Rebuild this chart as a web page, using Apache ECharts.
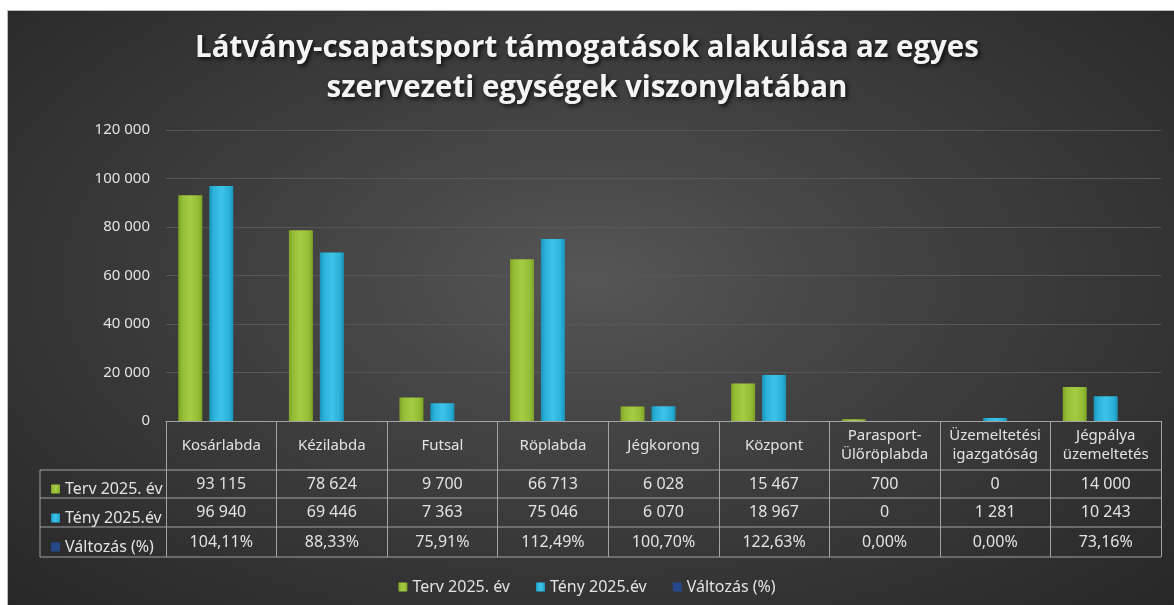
<!DOCTYPE html>
<html lang="hu">
<head>
    <meta charset="UTF-8">
    <title>Látvány-csapatsport támogatások</title>
    <script src="https://cdn.jsdelivr.net/npm/echarts@6/dist/echarts.min.js"></script>
    <style>
        body { margin: 0; background: #fff; }
        #panel {
            position: absolute; left: 7px; top: 10px; width: 1167px; height: 595px;
            background: radial-gradient(ellipse at 50% 45%, #565656 0%, #3e3e3e 45%, #272727 100%);
            border-left: 1px solid #bbb; border-top: 1px solid #bbb;
        }
        #main { position: absolute; left: 0; top: 0; width: 1174px; height: 605px; }
    </style>
</head>
<body>
<div id="panel"></div>
<div id="main"></div>
<script type="text/javascript">
    // adatok
    var categories = ['Kosárlabda', 'Kézilabda', 'Futsal', 'Röplabda', 'Jégkorong', 'Központ',
        'Parasport-\nÜlőröplabda', 'Üzemeltetési\nigazgatóság', 'Jégpálya\nüzemeltetés'];
    var terv = [93115, 78624, 9700, 66713, 6028, 15467, 700, 0, 14000];
    var teny = [96940, 69446, 7363, 75046, 6070, 18967, 0, 1281, 10243];
    // változás arányként (1 = 100%)
    var valtozas = [1.0411, 0.8833, 0.7591, 1.1249, 1.0070, 1.2263, 0, 0, 0.7316];
    var seriesNames = ['Terv 2025. év', 'Tény 2025.év', 'Változás (%)'];

    var FONT = 'Noto Sans';
    var TXT = '#e2e2e2';
    var LINE = '#a3a3a3';

    // rács és táblázat elrendezés
    var W = 1174, H = 605;
    var gridLeft = 166, gridRight = 13, gridTop = 130, gridBottom = 184;
    var zeroY = H - gridBottom;
    var tableLeft = 40;
    var rowLines = [470, 498, 527, 557];

    function fmtNum(v) {
        return String(v).replace(/\B(?=(\d{3})+(?!\d))/g, '\u00a0');
    }
    function fmtPct(v) {
        return (v * 100).toFixed(2).replace('.', ',') + '%';
    }

    function barGrad(dark, mid, light) {
        return new echarts.graphic.LinearGradient(0, 0, 1, 0, [
            {offset: 0, color: dark},
            {offset: 0.18, color: mid},
            {offset: 0.5, color: light},
            {offset: 0.82, color: mid},
            {offset: 1, color: dark}
        ]);
    }

    function rowAxis(data, margin) {
        return {
            type: 'category',
            gridIndex: 0,
            position: 'bottom',
            data: data,
            axisLine: {show: false},
            axisTick: {show: false},
            splitLine: {show: false},
            axisLabel: {
                interval: 0, margin: margin, verticalAlign: 'middle',
                color: TXT, fontSize: 16, fontFamily: FONT
            }
        };
    }

    var graphics = [];
    rowLines.forEach(function (y) {
        graphics.push({
            type: 'line', silent: true,
            shape: {x1: tableLeft, y1: y, x2: W - gridRight, y2: y},
            style: {stroke: LINE, lineWidth: 1}
        });
    });
    graphics.push({
        type: 'line', silent: true,
        shape: {x1: tableLeft, y1: rowLines[0], x2: tableLeft, y2: rowLines[rowLines.length - 1]},
        style: {stroke: LINE, lineWidth: 1}
    });

    var legendText = {color: TXT, fontSize: 16, fontFamily: FONT, lineHeight: 18};

    var option = {
        title: {
            text: 'Látvány-csapatsport támogatások alakulása az egyes\nszervezeti egységek viszonylatában',
            left: 'center',
            top: 24,
            textStyle: {
                color: '#f4f4f4', fontSize: 29.5, fontWeight: 'bold', fontFamily: 'Open Sans',
                lineHeight: 40,
                textShadowColor: 'rgba(0,0,0,0.8)', textShadowBlur: 4,
                textShadowOffsetX: 2, textShadowOffsetY: 2
            }
        },
        legend: [{
            data: seriesNames,
            top: 573,
            left: 'center',
            itemWidth: 9, itemHeight: 9, itemGap: 26,
            icon: 'rect',
            textStyle: legendText
        }, {
            data: seriesNames,
            orient: 'vertical',
            left: 46,
            top: 475,
            itemWidth: 9, itemHeight: 9, itemGap: 11,
            icon: 'rect',
            textStyle: legendText
        }],
        grid: {left: gridLeft, right: gridRight, top: gridTop, bottom: gridBottom, containLabel: false},
        xAxis: [{
            type: 'category',
            data: categories,
            axisLine: {lineStyle: {color: LINE, width: 1}},
            axisTick: {show: true, interval: 0, length: rowLines[rowLines.length - 1] - zeroY,
                lineStyle: {color: LINE, width: 1}},
            axisLabel: {
                interval: 0, margin: (rowLines[0] - zeroY) / 2, verticalAlign: 'middle',
                color: TXT, fontSize: 15, fontFamily: FONT, lineHeight: 19
            }
        },
            rowAxis(terv.map(fmtNum), 63),
            rowAxis(teny.map(fmtNum), 91.5),
            rowAxis(valtozas.map(fmtPct), 121)
        ],
        yAxis: {
            type: 'value',
            min: 0, max: 120000, interval: 20000,
            axisLine: {show: false},
            axisTick: {show: false},
            splitLine: {lineStyle: {color: '#575757', width: 1}},
            axisLabel: {
                color: TXT, fontSize: 15, fontFamily: FONT, margin: 16,
                formatter: function (v) { return fmtNum(v); }
            }
        },
        series: [{
            name: seriesNames[0],
            type: 'bar',
            data: terv,
            barWidth: 24,
            barGap: '29%',
            itemStyle: {color: barGrad('#7fa327', '#95bd36', '#a6cc45')}
        }, {
            name: seriesNames[1],
            type: 'bar',
            data: teny,
            barWidth: 24,
            barGap: '29%',
            itemStyle: {color: barGrad('#1b93b8', '#2bb2da', '#3dc2e8')}
        }, {
            name: seriesNames[2],
            type: 'bar',
            data: valtozas,
            barWidth: 24,
            barGap: '29%',
            itemStyle: {color: '#24488a'}
        }],
        graphic: graphics
    };

    var myChart = echarts.init(document.getElementById('main'));
    myChart.setOption(option);
</script>
</body>
</html>
